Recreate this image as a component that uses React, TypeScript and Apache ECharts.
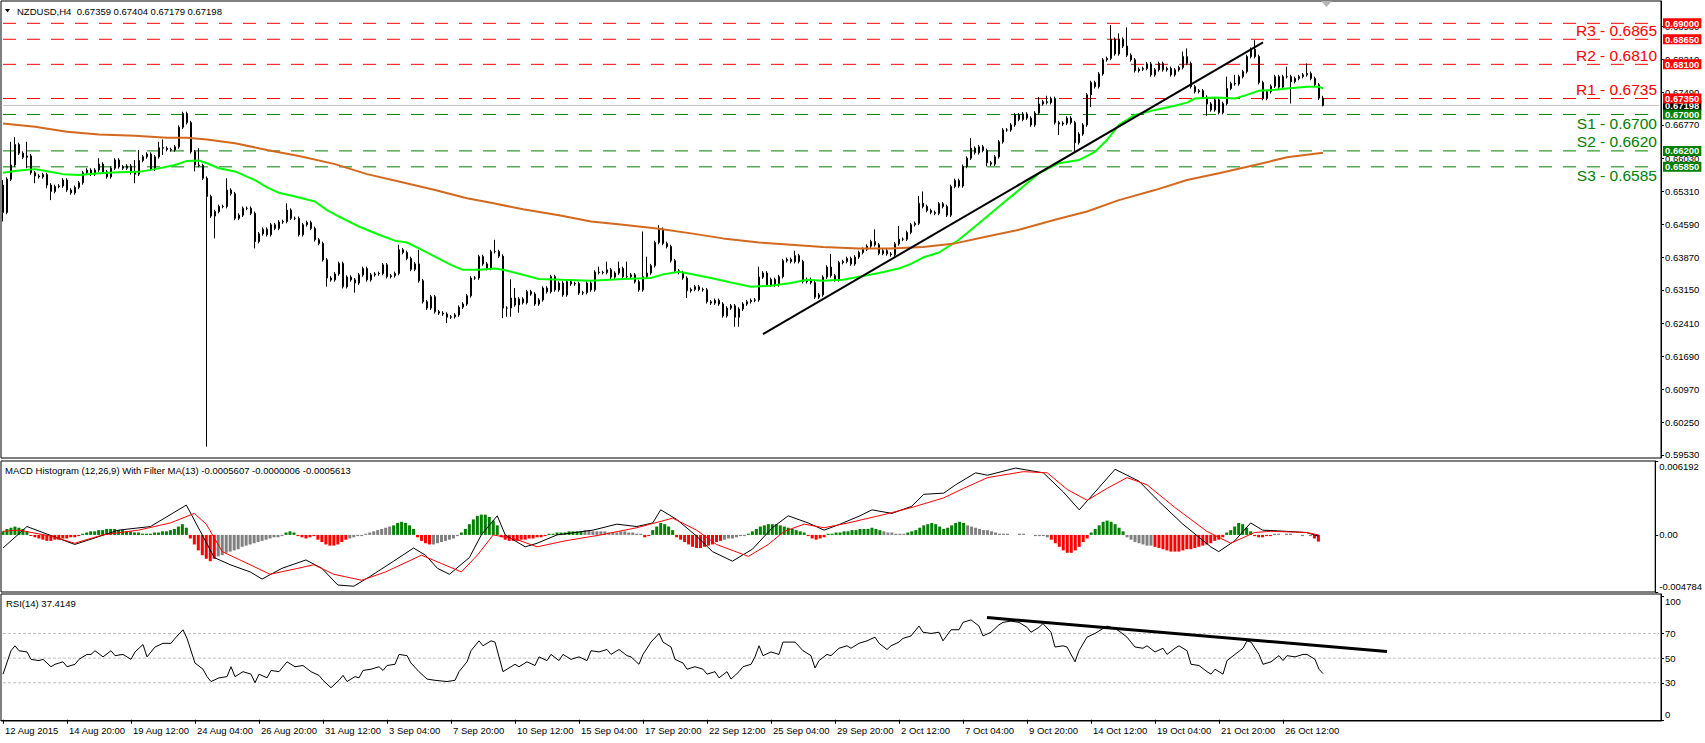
import { useEffect, useRef } from 'react';
import * as echarts from 'echarts';

const FONT = '"Liberation Sans", Arial, sans-serif';
const RED = '#FF0000';
const GREEN = '#008000';
const GRID_LEFT = 1;
const GRID_WIDTH = 1660;

// ---------- axis labels ----------
const TIME_LABELS = ['12 Aug 2015', '14 Aug 20:00', '19 Aug 12:00', '24 Aug 04:00', '26 Aug 20:00', '31 Aug 12:00', '3 Sep 04:00', '7 Sep 20:00', '10 Sep 12:00', '15 Sep 04:00', '17 Sep 20:00', '22 Sep 12:00', '25 Sep 04:00', '29 Sep 20:00', '2 Oct 12:00', '7 Oct 04:00', '9 Oct 20:00', '14 Oct 12:00', '19 Oct 04:00', '21 Oct 20:00', '26 Oct 12:00'];
const BARS_PER_LABEL = 16;
const TOTAL_SLOTS = 415;
const PRICE_TICKS = [0.5953, 0.6025, 0.6097, 0.6169, 0.6241, 0.6315, 0.6387, 0.6459, 0.6531, 0.6603, 0.6677, 0.6749, 0.6821, 0.6893];
const MACD_TICKS = [0.006192, 0, -0.004784];
const RSI_TICKS = [0, 30, 50, 70, 100];
const RSI_LEVELS = [30, 50, 70];

// ---------- titles ----------
const MAIN_TITLE = 'NZDUSD,H4  0.67359 0.67404 0.67179 0.67198';
const MACD_TITLE = 'MACD Histogram (12,26,9) With Filter MA(13) -0.0005607 -0.0000006 -0.0005613';
const RSI_TITLE = 'RSI(14) 37.4149';

// ---------- levels ----------
const RESISTANCE_NAMES = ['R3', 'R2', 'R1'];
const RESISTANCE_VALUES = [0.6865, 0.681, 0.6735];
const SUPPORT_NAMES = ['S1', 'S2', 'S3'];
const SUPPORT_VALUES = [0.67, 0.662, 0.6585];
const EXTRA_RESISTANCE = [0.69];
const LAST_PRICE = 0.67198;

// ---------- candles (prices in pips, 1 pip = 0.0001) ----------
const FIRST_OPEN = 6545;
const CLOSES = [
  6485, 6558, 6589, 6634, 6615, 6606, 6609, 6572, 6565, 6563,
  6568, 6545, 6531, 6542, 6543, 6556, 6534, 6528, 6540, 6550,
  6572, 6578, 6569, 6578, 6591, 6574, 6563, 6582, 6600, 6585,
  6582, 6587, 6572, 6569, 6599, 6607, 6613, 6580, 6607, 6627,
  6626, 6623, 6622, 6629, 6672, 6702, 6682, 6618, 6589, 6588,
  6560, 6520, 6477, 6487, 6498, 6498, 6534, 6526, 6472, 6479,
  6494, 6494, 6483, 6421, 6438, 6448, 6436, 6458, 6450, 6464,
  6465, 6490, 6472, 6472, 6436, 6458, 6463, 6450, 6425, 6417,
  6381, 6341, 6337, 6350, 6373, 6322, 6343, 6337, 6330, 6348,
  6362, 6337, 6348, 6350, 6351, 6370, 6344, 6346, 6351, 6403,
  6397, 6384, 6360, 6372, 6335, 6289, 6275, 6300, 6267, 6264,
  6262, 6255, 6256, 6260, 6277, 6284, 6302, 6341, 6341, 6388,
  6372, 6362, 6399, 6399, 6389, 6275, 6275, 6297, 6282, 6295,
  6287, 6311, 6306, 6284, 6293, 6319, 6311, 6344, 6315, 6330,
  6304, 6333, 6328, 6329, 6308, 6309, 6330, 6315, 6354, 6353,
  6353, 6359, 6343, 6352, 6362, 6344, 6344, 6348, 6333, 6315,
  6344, 6352, 6368, 6419, 6448, 6417, 6410, 6379, 6357, 6353,
  6341, 6313, 6316, 6322, 6316, 6315, 6289, 6286, 6292, 6284,
  6258, 6275, 6280, 6255, 6273, 6284, 6289, 6292, 6293, 6343,
  6352, 6326, 6338, 6326, 6344, 6379, 6382, 6377, 6390, 6377,
  6333, 6338, 6331, 6299, 6304, 6343, 6365, 6346, 6337, 6375,
  6377, 6384, 6372, 6387, 6397, 6404, 6411, 6421, 6414, 6395,
  6401, 6394, 6392, 6416, 6426, 6426, 6441, 6458, 6461, 6505,
  6498, 6489, 6485, 6483, 6504, 6498, 6479, 6542, 6555, 6543,
  6586, 6604, 6626, 6616, 6629, 6621, 6594, 6591, 6607, 6640,
  6666, 6666, 6677, 6699, 6689, 6701, 6692, 6677, 6703, 6723,
  6728, 6726, 6735, 6682, 6679, 6681, 6692, 6682, 6638, 6657,
  6677, 6743, 6770, 6761, 6789, 6820, 6823, 6865, 6833, 6865,
  6850, 6830, 6820, 6796, 6799, 6801, 6811, 6787, 6798, 6812,
  6798, 6801, 6787, 6798, 6803, 6827, 6812, 6761, 6750, 6752,
  6738, 6723, 6710, 6732, 6704, 6724, 6757, 6768, 6767, 6783,
  6794, 6827, 6843, 6827, 6770, 6735, 6750, 6762, 6783, 6760,
  6783, 6783, 6772, 6779, 6783, 6787, 6790, 6779, 6765, 6735.9,
  6719.8,
];
// wick lengths in pips; bars not listed have the typical wick below
const TYPICAL_WICK = 4;
const UP_WICKS: Record<number, number> = {
  0: 11, 2: 51, 3: 16, 6: 31, 24: 13, 33: 28, 34: 23, 39: 13, 40: 18, 49: 37, 56: 26, 71: 15,
  99: 11, 104: 31, 123: 26, 127: 41, 128: 22, 149: 12, 151: 18, 154: 15, 156: 33, 160: 99,
  161: 36, 164: 9, 189: 23, 198: 11, 207: 29, 218: 27, 224: 29, 229: 16, 230: 26, 242: 22,
  259: 15, 261: 13, 277: 31, 279: 13, 281: 41, 295: 11, 296: 18, 306: 26, 308: 19, 313: 20,
  321: 22, 326: 22, 330: 5,
};
const DOWN_WICKS: Record<number, number> = {
  0: 20, 6: 24, 8: 16, 11: 7, 12: 19, 33: 20, 40: 15, 48: 14, 51: 549, 53: 49, 63: 15, 81: 19,
  88: 21, 111: 13, 125: 22, 126: 19, 127: 19, 129: 17, 171: 16, 183: 21, 184: 21, 246: 8,
  264: 24, 268: 20, 272: 27, 301: 26, 322: 48, 330: 2,
};

// ---------- moving averages: [bar, pips] ----------
const FAST_MA = [
  [0, 6572], [4, 6577], [8, 6580], [10, 6577], [15, 6569], [19, 6567], [24, 6571], [29, 6573], [34, 6574],
  [38, 6580], [43, 6589], [46, 6598], [49, 6599], [51, 6593], [54, 6582], [58, 6575], [63, 6556], [66, 6540],
  [69, 6528], [73, 6520], [78, 6509], [81, 6490], [84, 6476], [89, 6454], [94, 6436], [98, 6423], [101, 6419],
  [104, 6406], [108, 6388], [112, 6370], [115, 6359], [119, 6359], [123, 6362], [125, 6359], [130, 6348],
  [134, 6339], [140, 6337], [147, 6335], [155, 6339], [162, 6341], [165, 6349], [169, 6355], [172, 6350],
  [177, 6341], [182, 6331], [187, 6322], [192, 6324], [197, 6330], [201, 6337], [205, 6335], [210, 6337],
  [214, 6344], [219, 6352], [224, 6362], [227, 6372], [230, 6386], [234, 6397], [239, 6425], [244, 6461],
  [249, 6498], [254, 6534], [259, 6571], [264, 6593], [269, 6600], [273, 6618], [276, 6644], [279, 6677],
  [283, 6699], [288, 6710], [293, 6719], [296, 6726], [298, 6735], [303, 6737], [308, 6735], [311, 6743],
  [314, 6752], [318, 6754], [321, 6757], [326, 6761], [329, 6761], [330, 6757],
];
const SLOW_MA = [
  [0, 6680], [8, 6673], [16, 6662], [24, 6656], [33, 6653], [41, 6649], [46, 6649], [51, 6645], [58, 6637],
  [66, 6622], [74, 6609], [83, 6591], [91, 6569], [99, 6553], [108, 6534], [116, 6516], [122, 6506],
  [130, 6492], [139, 6479], [147, 6465], [155, 6458], [164, 6449], [172, 6439], [180, 6428], [189, 6419],
  [197, 6414], [205, 6409], [214, 6406], [222, 6406], [230, 6409], [238, 6417], [246, 6432], [254, 6447],
  [263, 6469], [271, 6487], [279, 6512], [288, 6534], [296, 6556], [304, 6571], [313, 6589], [321, 6606],
  [330, 6616],
];
const PRICE_TREND = [[190, 0.6218], [315, 0.6858]];

// ---------- MACD (units of 0.0001) ----------
const MACD_MAIN = [
  [0, -11], [6, 7], [18, -8], [29, 4], [37, 7], [46, 25], [53, -19], [57, -25], [62, -31], [65, -37],
  [70, -28], [76, -21], [80, -28], [84, -42], [88, -43], [92, -35], [98, -22], [103, -11], [106, -17],
  [109, -28], [112, -33], [117, -19], [120, 0], [124, 16], [126, 0], [131, -10], [134, -7], [139, 0],
  [148, 4], [154, 9], [159, 7], [163, 10], [165, 21], [169, 13], [174, -1], [178, -14], [183, -22],
  [188, -12], [193, 6], [197, 16], [202, 10], [206, 4], [210, 9], [215, 16], [218, 21], [223, 18],
  [228, 24], [231, 34], [236, 35], [239, 42], [244, 52], [247, 50], [254, 56], [261, 52], [266, 36],
  [270, 21], [274, 36], [279, 55], [285, 45], [290, 28], [296, 9], [303, -10], [305, -14], [309, -5],
  [313, 10], [316, 4], [322, 3], [327, 2], [330, -1],
];
const MACD_SIGNAL = [
  [0, 3], [4, 4], [12, -1], [18, -7], [25, 0], [34, 4], [42, 10], [48, 18], [51, 9], [55, -14], [62, -25],
  [67, -33], [74, -28], [78, -25], [83, -33], [90, -38], [96, -31], [105, -17], [110, -24], [115, -31],
  [119, -17], [123, 0], [129, -4], [134, -10], [141, -5], [150, 0], [159, 6], [168, 14], [174, 4],
  [179, -8], [187, -18], [192, -8], [196, 3], [201, 9], [206, 6], [212, 10], [221, 17], [228, 23],
  [236, 31], [241, 39], [247, 48], [256, 53], [262, 52], [267, 38], [272, 29], [277, 39], [282, 48],
  [287, 42], [294, 23], [302, 3], [308, -7], [314, 2], [318, 3], [327, 2], [330, 0],
];
// histogram runs: colour key, consecutive bar values
const MACD_HIST_RUNS: [string, number[]][] = [
  ['g', [3, 5, 6, 7, 6, 5, 3]],
  ['r', [-1, -2, -3, -4, -5, -5, -4, -4, -3, -3, -2, -2, -1]],
  ['g', [1, 2, 3, 3, 4, 4, 5, 5, 5, 4, 4, 3, 3, 2, 2, 1]],
  ['g', [1, 1, 2, 2, 3, 3, 4, 5, 7, 9, 6]],
  ['r', [-3, -8, -13, -17, -20, -22, -20]],
  ['s', [-18, -17, -15, -14, -13, -12, -10, -9, -8, -7, -6, -5, -4, -3, -2, -2, -1]],
  ['g', [2, 3, 2]],
  ['r', [-1, -2, -3, -2, -1]],
  ['r', [-4, -6, -8, -9, -9, -8, -6, -4]],
  ['s', [-3, -2, -1, -1]],
  ['s', [1, 2, 3, 4, 5, 6, 7]],
  ['g', [8, 10, 11, 10, 8, 5]],
  ['r', [-2, -5, -7, -8]],
  ['s', [-8, -7, -6, -5, -4, -3, -1]],
  ['g', [2, 5, 9, 13, 16, 17, 17, 15, 12, 8]],
  ['r', [-2, -4, -5, -5, -5, -4, -4, -3, -3, -2, -2, -1]],
  ['g', [1, 1, 2, 2, 2, 3, 3, 3, 3]],
  ['s', [4, 4, 3, 3, 3, 3, 2, 2, 2, 3, 3, 2, 2, 1, 1]],
  ['r', [-2, -1]],
  ['g', [4, 7, 10, 9, 7, 4]],
  ['r', [-2, -4, -6, -8, -10, -11, -11, -10, -9, -8, -6, -5]],
  ['s', [-4, -3, -3, -2, -1, -1]],
  ['g', [1, 3, 5, 7, 8, 9, 9, 9, 8, 7, 6, 5, 4, 3, 2]],
  ['r', [-1, -3, -4, -3, -2]],
  ['g', [1, 1, 2, 2, 3, 3, 4, 4, 5, 5, 5, 6, 5, 4]],
  ['s', [3, 2, 2, 1, 1, 1]],
  ['g', [2, 3, 4, 6, 8, 9, 10, 9, 7, 5, 6, 8, 10, 11, 10]],
  ['s', [8, 7, 6, 5, 4, 4, 3, 2, 1]],
  ['s', [1, 1, 0, 0, 1, 1, 0, 0, -1, -1, -1, -2]],
  ['r', [-4, -7, -10, -13, -15, -15, -13, -10, -6, -3]],
  ['g', [2, 5, 8, 11, 12, 11, 9, 6, 3]],
  ['s', [-2, -4, -6, -7, -8, -9, -9]],
  ['r', [-10, -11, -12, -13, -14, -14, -14, -13, -12, -12, -11, -10, -9, -8, -7, -5, -4, -2]],
  ['g', [2, 4, 7, 10, 9, 6, 3]],
  ['r', [-1, -2, -2, -1, -1]],
  ['s', [1, 1, 0, 1, 1, 0, 0, -1, 0, -1]],
  ['r', [-3, -5.6]],
];

// ---------- RSI: [bar, value] ----------
const RSI_POINTS = [
  [0, 37], [2, 56], [3, 60], [4, 56], [6, 55], [7, 49], [9, 48], [10, 49], [12, 43], [13, 45], [15, 47], [16, 43],
  [18, 45], [19, 49], [21, 53], [22, 53], [23, 56], [25, 51], [27, 56], [28, 52], [30, 53], [32, 49], [33, 55],
  [35, 61], [36, 51], [38, 59], [40, 62], [42, 62], [43, 66], [45, 73], [46, 66], [48, 46], [50, 41], [51, 35],
  [52, 31], [54, 34], [56, 35], [57, 43], [58, 35], [60, 39], [62, 37], [63, 30], [64, 37], [66, 34], [67, 40],
  [69, 39], [71, 47], [72, 45], [73, 43], [75, 44], [77, 39], [79, 36], [80, 32], [82, 26], [84, 32], [85, 36],
  [86, 31], [88, 35], [89, 34], [90, 40], [92, 41], [94, 43], [95, 40], [96, 44], [98, 45], [99, 53], [101, 52],
  [102, 46], [104, 39], [106, 33], [108, 32], [111, 31], [113, 32], [114, 39], [116, 47], [117, 56], [119, 64],
  [120, 60], [122, 64], [123, 63], [125, 39], [127, 43], [128, 45], [129, 43], [131, 47], [133, 44], [134, 51],
  [136, 48], [137, 53], [139, 48], [140, 53], [142, 49], [144, 51], [146, 48], [147, 56], [149, 55], [151, 57],
  [152, 53], [154, 57], [156, 52], [157, 51], [159, 45], [160, 53], [162, 63], [164, 70], [165, 63], [167, 59],
  [168, 49], [170, 46], [171, 41], [173, 43], [175, 41], [176, 37], [178, 39], [179, 34], [181, 39], [182, 33],
  [184, 39], [185, 43], [187, 45], [188, 51], [189, 60], [190, 52], [192, 55], [194, 53], [195, 63], [197, 63],
  [198, 63], [200, 56], [202, 52], [203, 42], [204, 48], [206, 53], [207, 52], [209, 58], [211, 60], [212, 58],
  [214, 62], [216, 64], [218, 67], [219, 62], [221, 57], [222, 60], [224, 63], [225, 66], [227, 68], [229, 76],
  [230, 71], [232, 70], [234, 71], [235, 64], [237, 73], [239, 73], [240, 79], [242, 81], [244, 76], [245, 68],
  [247, 71], [249, 77], [250, 79], [252, 80], [254, 79], [256, 75], [257, 71], [259, 75], [260, 78], [262, 71],
  [263, 59], [265, 60], [266, 59], [268, 47], [269, 56], [271, 67], [273, 70], [274, 72], [276, 76], [278, 74],
  [279, 72], [281, 67], [283, 59], [285, 58], [286, 60], [288, 55], [290, 58], [291, 53], [293, 58], [294, 60],
  [296, 56], [297, 45], [299, 44], [301, 39], [302, 37], [303, 41], [305, 37], [306, 48], [308, 53], [310, 58],
  [311, 64], [312, 63], [314, 53], [315, 45], [317, 47], [319, 52], [320, 48], [321, 52], [323, 51], [325, 53],
  [326, 53], [328, 49], [329, 41], [330, 37.4],
];
const RSI_TREND = [[246, 82.9], [346, 55.4]];

type Level = { name: string; value: number; color: string };
function allLevels(): Level[] {
  return [
    ...EXTRA_RESISTANCE.map((v) => ({ name: '', value: v, color: RED })),
    ...RESISTANCE_NAMES.map((n, i) => ({ name: n, value: RESISTANCE_VALUES[i], color: RED })),
    ...SUPPORT_NAMES.map((n, i) => ({ name: n, value: SUPPORT_VALUES[i], color: GREEN })),
  ];
}

function buildOption() {
  const categories = Array.from({ length: TOTAL_SLOTS }, (_, i) =>
    i % BARS_PER_LABEL === 0 && i / BARS_PER_LABEL < TIME_LABELS.length ? TIME_LABELS[i / BARS_PER_LABEL] : ''
  );
  const showLabel = (i: number) => categories[i] !== '';

  const candles = CLOSES.map((c, i) => {
    const o = i === 0 ? FIRST_OPEN : CLOSES[i - 1];
    const hi = Math.max(o, c) + (UP_WICKS[i] ?? TYPICAL_WICK);
    const lo = Math.min(o, c) - (DOWN_WICKS[i] ?? TYPICAL_WICK);
    return [o / 1e4, c / 1e4, lo / 1e4, hi / 1e4];
  });

  const histColors: Record<string, string> = { g: GREEN, r: RED, s: '#808080' };
  const hist: any[] = [];
  let bar = 0;
  for (const [key, vals] of MACD_HIST_RUNS) {
    for (const v of vals) {
      hist.push({ value: [bar, v / 1e4], itemStyle: { color: histColors[key] } });
      bar++;
    }
  }

  const levelLine = (v: number, color: string, type: any) => ({
    type: 'line',
    xAxisIndex: 0,
    yAxisIndex: 0,
    data: [[0, v], [TOTAL_SLOTS - 1, v]],
    showSymbol: false,
    symbol: 'none',
    silent: true,
    lineStyle: { color, width: 1, type },
    z: 1,
  });

  const xAxisBase = (g: number) => ({
    type: 'category',
    gridIndex: g,
    data: categories,
    boundaryGap: true,
    show: g === 2,
    axisLine: { show: true, lineStyle: { color: '#000', width: 1 } },
    axisTick: { show: true, alignWithLabel: true, interval: showLabel, length: 4, lineStyle: { color: '#000' } },
    axisLabel: { interval: showLabel, align: 'left', color: '#000', fontSize: 9.5, fontFamily: FONT, margin: 4, padding: [0, 0, 0, 2] },
    splitLine: { show: false },
  });

  const richText = { color: '#000', fontSize: 9.5, fontFamily: FONT };
  const yAxisBase = (g: number, min: number, max: number, ticks: number[], fmt: (v: number) => string, edgePad: number) => ({
    type: 'value',
    gridIndex: g,
    position: 'right',
    min,
    max,
    axisLine: { show: true, lineStyle: { color: '#000', width: 1 } },
    axisTick: { show: true, length: 3, customValues: ticks, lineStyle: { color: '#000' } },
    axisLabel: {
      customValues: ticks,
      formatter: (v: number) => {
        const t = fmt(v);
        if (edgePad && Math.abs(v - max) < 1e-9 * Math.max(1, Math.abs(max))) return `{top|${t}}`;
        if (edgePad && Math.abs(v - min) < 1e-9 * Math.max(1, Math.abs(min))) return `{bot|${t}}`;
        if (edgePad && v === ticks[ticks.length - 1] && g === 2) return `{top|${t}}`;
        if (edgePad && v === ticks[0] && g === 2) return `{bot|${t}}`;
        return t;
      },
      rich: {
        top: { ...richText, padding: [edgePad, 0, 0, 0] },
        bot: { ...richText, padding: [0, 0, edgePad, 0] },
      },
      color: '#000',
      fontSize: 9.5,
      fontFamily: FONT,
      margin: 4,
    },
    splitLine: { show: false },
  });

  const gridBase = { left: GRID_LEFT, width: GRID_WIDTH, show: true, borderColor: '#000', borderWidth: 1, backgroundColor: '#fff' };

  return {
    animation: false,
    backgroundColor: '#fff',
    textStyle: { fontFamily: FONT },
    grid: [
      { ...gridBase, top: 1, height: 457 },
      { ...gridBase, top: 461, height: 131 },
      { ...gridBase, top: 594, height: 127 },
    ],
    xAxis: [xAxisBase(0), xAxisBase(1), xAxisBase(2)],
    yAxis: [
      yAxisBase(0, 0.5946, 0.6949, PRICE_TICKS, (v) => v.toFixed(5), 0),
      yAxisBase(1, -0.004784, 0.006192, MACD_TICKS, (v) => (v === 0 ? '0.00' : v.toFixed(6)), 11),
      yAxisBase(2, -1, 102, RSI_TICKS, (v) => String(v), 10),
    ],
    series: [
      ...allLevels().map((l) => levelLine(l.value, l.color, [13, 11])),
      levelLine(LAST_PRICE, '#C0C0C0', 'solid'),
      {
        name: 'NZDUSD',
        type: 'candlestick',
        xAxisIndex: 0,
        yAxisIndex: 0,
        data: candles,
        barWidth: 2,
        itemStyle: { color: GREEN, color0: RED, borderColor: '#000', borderColor0: '#000', borderWidth: 1 },
        z: 3,
      },
      {
        name: 'MA fast',
        type: 'line',
        xAxisIndex: 0,
        yAxisIndex: 0,
        data: FAST_MA.map(([b, v]) => [b, v / 1e4]),
        showSymbol: false,
        lineStyle: { color: '#00FF00', width: 2 },
        z: 4,
      },
      {
        name: 'MA slow',
        type: 'line',
        xAxisIndex: 0,
        yAxisIndex: 0,
        data: SLOW_MA.map(([b, v]) => [b, v / 1e4]),
        showSymbol: false,
        lineStyle: { color: '#D2691E', width: 2 },
        z: 4,
      },
      {
        name: 'Trend',
        type: 'line',
        xAxisIndex: 0,
        yAxisIndex: 0,
        data: PRICE_TREND,
        showSymbol: false,
        lineStyle: { color: '#000', width: 2 },
        z: 5,
      },
      {
        name: 'MACD hist',
        type: 'bar',
        xAxisIndex: 1,
        yAxisIndex: 1,
        data: hist,
        barWidth: 3,
      },
      {
        name: 'MACD',
        type: 'line',
        xAxisIndex: 1,
        yAxisIndex: 1,
        data: MACD_MAIN.map(([b, v]) => [b, v / 1e4]),
        showSymbol: false,
        lineStyle: { color: '#000', width: 1 },
      },
      {
        name: 'Signal',
        type: 'line',
        xAxisIndex: 1,
        yAxisIndex: 1,
        data: MACD_SIGNAL.map(([b, v]) => [b, v / 1e4]),
        showSymbol: false,
        lineStyle: { color: RED, width: 1 },
      },
      ...RSI_LEVELS.map((v) => ({
        type: 'line',
        xAxisIndex: 2,
        yAxisIndex: 2,
        data: [[0, v], [TOTAL_SLOTS - 1, v]],
        showSymbol: false,
        symbol: 'none',
        silent: true,
        lineStyle: { color: '#C0C0C0', width: 1, type: [3, 2] },
        z: 1,
      })),
      {
        name: 'RSI',
        type: 'line',
        xAxisIndex: 2,
        yAxisIndex: 2,
        data: RSI_POINTS,
        showSymbol: false,
        lineStyle: { color: '#000', width: 1 },
      },
      {
        name: 'RSI trend',
        type: 'line',
        xAxisIndex: 2,
        yAxisIndex: 2,
        data: RSI_TREND,
        showSymbol: false,
        lineStyle: { color: '#000', width: 3 },
      },
    ],
  };
}

function buildGraphics(chart: echarts.ECharts) {
  const yOf = (v: number) => chart.convertToPixel({ yAxisIndex: 0 }, v) as number;
  const right = GRID_LEFT + GRID_WIDTH;
  const belowLabels = new Set(['S1', 'S3']);
  const els: any[] = [
    { type: 'polygon', z: 100, shape: { points: [[5, 9], [10, 9], [7.5, 12.5]] }, style: { fill: '#000' } },
    { type: 'text', z: 100, x: 17, y: 11, style: { text: MAIN_TITLE, fill: '#000', fontSize: 9.5, fontFamily: FONT, verticalAlign: 'middle' } },
    { type: 'text', z: 100, x: 5, y: 470, style: { text: MACD_TITLE, fill: '#000', fontSize: 9.5, fontFamily: FONT, verticalAlign: 'middle' } },
    { type: 'text', z: 100, x: 6, y: 603, style: { text: RSI_TITLE, fill: '#000', fontSize: 9.5, fontFamily: FONT, verticalAlign: 'middle' } },
    { type: 'polygon', z: 100, shape: { points: [[1321, 1], [1332, 1], [1326.5, 7]] }, style: { fill: '#B4B4B4' } },
  ];
  const box = (v: number, bg: string) => ({
    type: 'text',
    z: 101,
    x: right + 2,
    y: yOf(v),
    style: {
      text: v.toFixed(5), fill: '#fff', fontSize: 9.5, fontWeight: 'bold', fontFamily: FONT,
      verticalAlign: 'middle', align: 'left', backgroundColor: bg, padding: [1, 2, 0, 2], lineHeight: 9,
    },
  });
  els.push(box(LAST_PRICE, '#000'));
  for (const l of allLevels()) {
    if (l.name) {
      const y = yOf(l.value);
      els.push({
        type: 'text',
        z: 100,
        x: right - 4,
        y: belowLabels.has(l.name) ? y + 9 : y - 9,
        style: {
          text: `${l.name} - ${l.value.toFixed(4)}`, fill: l.color, fontSize: 15.5, fontFamily: FONT,
          align: 'right', verticalAlign: 'middle',
        },
      });
    }
    els.push(box(l.value, l.color));
  }
  return els;
}

export default function App() {
  const ref = useRef<HTMLDivElement>(null);
  useEffect(() => {
    if (!ref.current) return;
    const chart = echarts.init(ref.current, undefined, { renderer: 'svg' });
    chart.setOption(buildOption() as any);
    chart.setOption({ graphic: buildGraphics(chart) } as any);
    return () => chart.dispose();
  }, []);
  return <div ref={ref} style={{ position: 'absolute', left: 0, top: 0, width: 1705, height: 743, background: '#fff' }} />;
}
